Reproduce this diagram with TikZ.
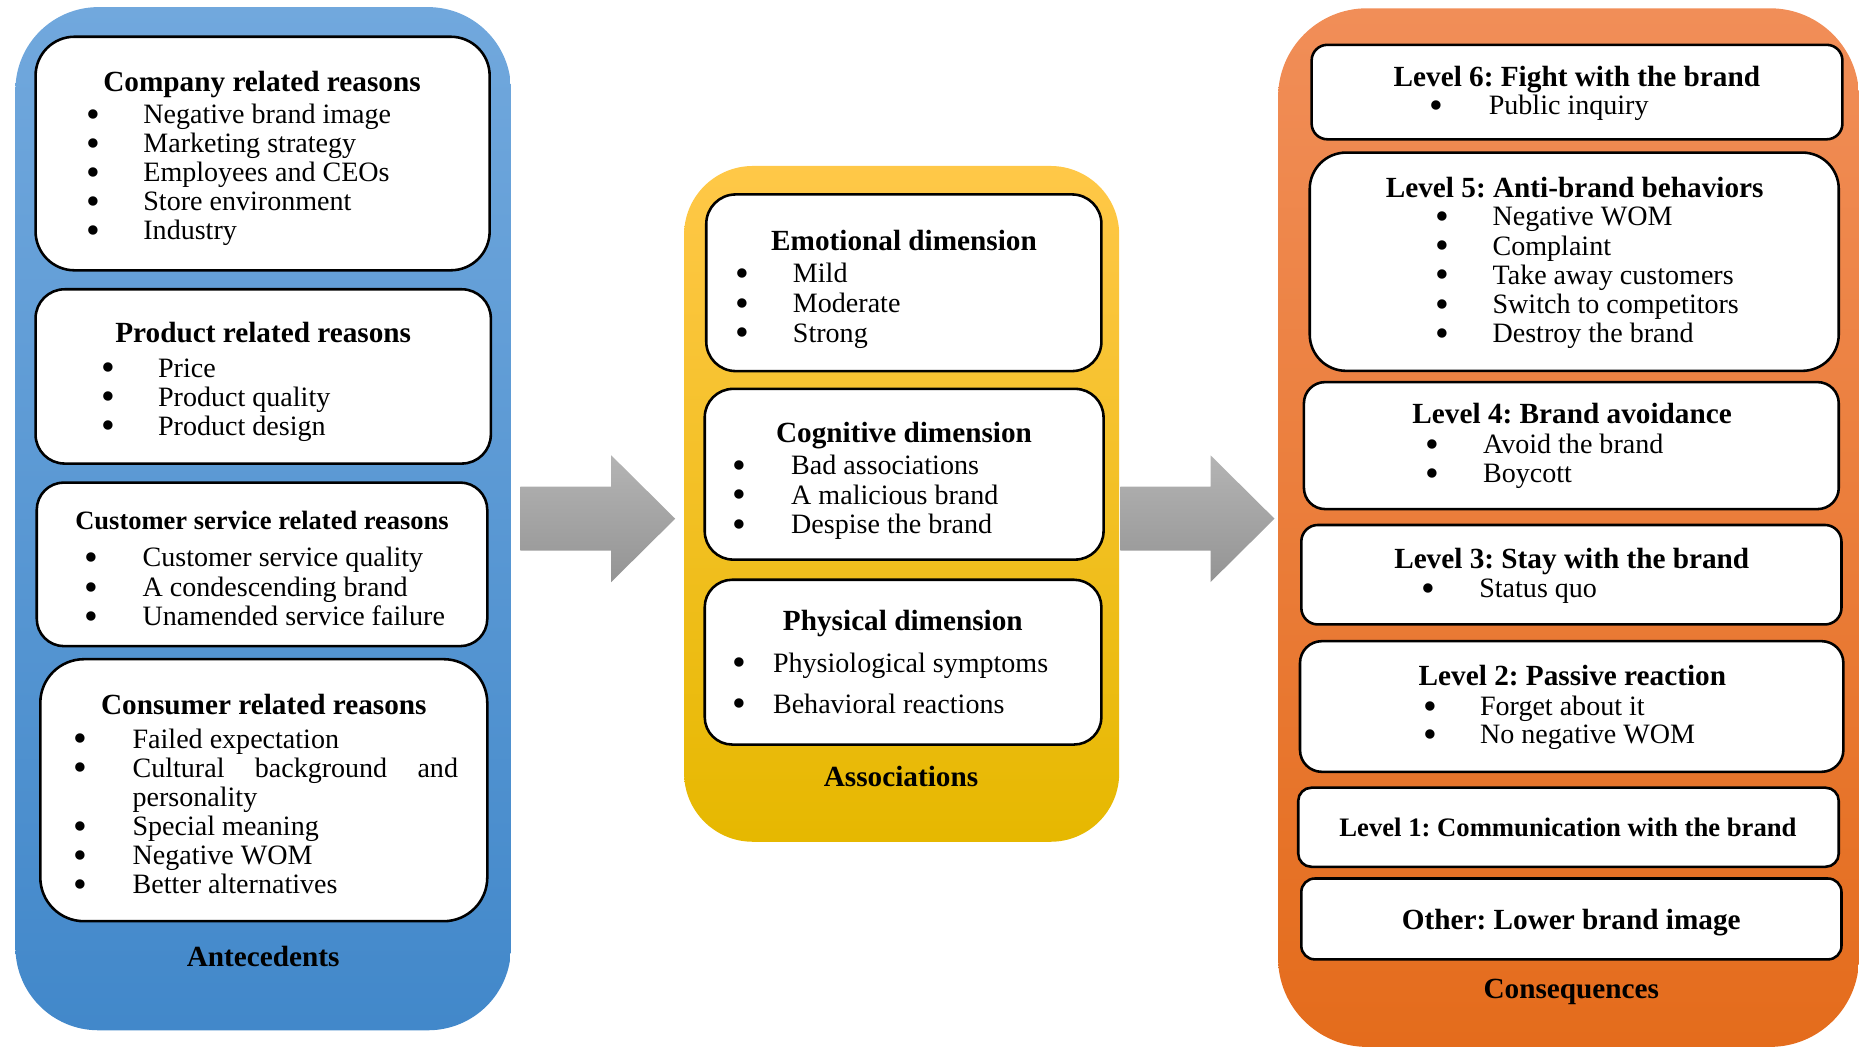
\documentclass[tikz,border=0pt]{standalone}
\usepackage{fontspec}
\setmainfont{Liberation Serif}
\frenchspacing
\usetikzlibrary{calc}
\definecolor{blueT}{RGB}{113,168,221}
\definecolor{blueB}{RGB}{66,136,202}
\definecolor{yelT}{RGB}{255,200,72}
\definecolor{yelM}{RGB}{255,192,0}
\definecolor{yelB}{RGB}{230,184,0}
\definecolor{orT}{RGB}{241,142,88}
\definecolor{orM}{RGB}{241,125,45}
\definecolor{orB}{RGB}{228,108,28}
\definecolor{arrT}{RGB}{180,180,180}
\definecolor{arrB}{RGB}{148,148,148}
% white box: name, x1, y1, x2, y2
\newcommand\ibox[5]{\node[ibox,minimum width=(#4-#2)*0.6pt,minimum height=(#5-#3)*0.6pt,rounded corners=(#5-#3)*0.1pt] (#1) at ({(#2+#4)/2},{(#3+#5)/2}) {};}
% grey block arrow: from, tip
\newcommand\barrow[2]{\shade[top color=arrT,bottom color=arrB] ($(#1)+(0,-27)$) -- ($(#2)+(-54,-27)$) -- ($(#2)+(-54,-53.5)$) -- (#2) -- ($(#2)+(-54,53.5)$) -- ($(#2)+(-54,27)$) -- ($(#1)+(0,27)$) -- cycle;}
\newcommand\bigbul{\raisebox{-1.9pt}{\scalebox{1.4}{\textbullet}}}
\begin{document}
\begin{tikzpicture}[x=0.6pt,y=-0.6pt,
  panel/.style={inner sep=0pt,outer sep=0pt},
  ibox/.style={draw=black,line width=1.3pt,fill=white,inner sep=0pt,outer sep=0pt},
  ttl/.style={font=\bfseries\fontsize{14.8}{16}\selectfont,anchor=base,inner sep=0pt},
  itm/.style={font=\fontsize{14.2}{16}\selectfont,anchor=base west,inner sep=0pt},
  bul/.style={font=\fontsize{14.2}{16}\selectfont,anchor=base,inner sep=0pt}]
\useasboundingbox (0,0) rectangle (1568,884);
%panels
\node[panel,top color=blueT,bottom color=blueB,minimum width=418*0.6pt,minimum height=863*0.6pt,rounded corners=70*0.6pt] (ante) at (222,437.5) {};
\node[panel,top color=yelT,middle color=yelM,bottom color=yelB,minimum width=367*0.6pt,minimum height=570*0.6pt,rounded corners=58*0.6pt] (assoc) at (760.5,425) {};
\node[panel,top color=orT,middle color=orM,bottom color=orB,minimum width=490*0.6pt,minimum height=876*0.6pt,rounded corners=75*0.6pt] (conseq) at (1323,445) {};
%arrows
\coordinate (a1s) at ($(ante.east)+(8,0)$);
\coordinate (a1e) at ($(assoc.west |- ante.east)+(-7.5,0)$);
\coordinate (a2s) at ($(assoc.east |- ante.east)+(1,0)$);
\coordinate (a2e) at ($(conseq.west |- ante.east)+(-3,0)$);
\barrow{a1s}{a1e}
\barrow{a2s}{a2e}
%antecedents
\ibox{comp}{30}{31}{413}{228}
\node[ttl] (compt) at (221,77.6) {Company related reasons};
\foreach \t [count=\i from 0] in {Negative brand image,Marketing strategy,Employees and CEOs,Store environment,Industry}
 {\node[bul] (cb\i) at (78.5,{104+24.5*\i}) {\bigbul};
  \node[itm] (ci\i) at (120.6,{104+24.5*\i}) {\t};}
\ibox{prod}{30}{244}{414}{391}
\node[ttl] (prodt) at (222,289) {Product related reasons};
\foreach \t [count=\i from 0] in {Price,Product quality,Product design}
 {\node[bul] (pb\i) at (91,{318+24.5*\i}) {\bigbul};
  \node[itm] (pi\i) at (133,{318+24.5*\i}) {\t};}
\ibox{serv}{31}{407}{411}{545}
\node[ttl,font=\bfseries\fontsize{13.4}{15}\selectfont] (servt) at (221,447) {Customer service related reasons};
\foreach \t [count=\i from 0] in {Customer service quality,A condescending brand,Unamended service failure}
 {\node[bul] (sb\i) at (77,{478+25*\i}) {\bigbul};
  \node[itm] (si\i) at (120,{478+25*\i}) {\t};}
\ibox{cons}{34}{556}{411}{777}
\node[ttl] (const) at (222.5,603) {Consumer related reasons};
\foreach \y/\t [count=\i] in {631/Failed expectation,655.5/{\makebox[164.7pt][s]{Cultural background and}},704.5/Special meaning,729/Negative WOM,753.5/Better alternatives}
 {\node[bul] (kb\i) at (68,\y) {\bigbul};
  \node[itm] (ki\i) at (111.5,\y) {\t};}
\node[itm] (kpers) at (111.5,680) {personality};
\node[ttl] (antet) at (222,815) {Antecedents};
%associations
\ibox{emo}{595.7}{164}{929}{313}
\node[ttl] (emot) at (762.5,211) {Emotional dimension};
\foreach \t [count=\i from 0] in {Mild,Moderate,Strong}
 {\node[bul] (eb\i) at (626,{238.5+25*\i}) {\bigbul};
  \node[itm] (ei\i) at (668.5,{238.5+25*\i}) {\t};}
\ibox{cog}{594.4}{328}{930.8}{472}
\node[ttl] (cogt) at (762.5,373) {Cognitive dimension};
\foreach \t [count=\i from 0] in {Bad associations,A malicious brand,Despise the brand}
 {\node[bul] (gb\i) at (624,{400.5+24.8*\i}) {\bigbul};
  \node[itm] (gi\i) at (667,{400.5+24.8*\i}) {\t};}
\ibox{phy}{594.4}{489}{929}{628}
\node[ttl] (phyt) at (761.5,532) {Physical dimension};
\foreach \t [count=\i from 0] in {Physiological symptoms,Behavioral reactions}
 {\node[bul] (yb\i) at (624,{567+34.5*\i}) {\bigbul};
  \node[itm] (yi\i) at (651.7,{567+34.5*\i}) {\t};}
\node[ttl] (assoct) at (760,663) {Associations};
%consequences
\ibox{lv6}{1106.3}{37.8}{1554}{117.5}
\node[ttl] (lv6t) at (1330,73.3) {Level 6: Fight with the brand};
\node[bul] (lv6b) at (1211.6,96.5) {\bigbul};
\node[itm] (lv6i) at (1255.4,96.5) {Public inquiry};
\ibox{lv5}{1104.7}{128.7}{1550.9}{312.8}
\node[ttl] (lv5t) at (1328.2,166.4) {Level 5: Anti-brand behaviors};
\foreach \t [count=\i from 0] in {Negative WOM,Complaint,Take away customers,Switch to competitors,Destroy the brand}
 {\node[bul] (fb\i) at (1216.8,{190.5+24.6*\i}) {\bigbul};
  \node[itm] (fi\i) at (1258.6,{190.5+24.6*\i}) {\t};}
\ibox{lv4}{1099.8}{322.3}{1550.9}{429.4}
\node[ttl] (lv4t) at (1326,357.5) {Level 4: Brand avoidance};
\foreach \t [count=\i from 0] in {Avoid the brand,Boycott}
 {\node[bul] (vb\i) at (1207.8,{382.7+24.3*\i}) {\bigbul};
  \node[itm] (vi\i) at (1250.6,{382.7+24.3*\i}) {\t};}
\ibox{lv3}{1097.6}{442.8}{1553.2}{526.7}
\node[ttl] (lv3t) at (1325.7,479.8) {Level 3: Stay with the brand};
\node[bul] (lv3b) at (1204.5,503.9) {\bigbul};
\node[itm] (lv3i) at (1247.4,503.9) {Status quo};
\ibox{lv2}{1096.5}{540.8}{1554.8}{651}
\node[ttl] (lv2t) at (1326.2,578.4) {Level 2: Passive reaction};
\foreach \t [count=\i from 0] in {Forget about it,No negative WOM}
 {\node[bul] (wb\i) at (1206.2,{603.3+24.2*\i}) {\bigbul};
  \node[itm] (wi\i) at (1248,{603.3+24.2*\i}) {\t};}
\ibox{lv1}{1095}{664.4}{1550.9}{731.1}
\node[ttl,font=\bfseries\fontsize{13.5}{15}\selectfont] (lv1t) at (1322.5,705.6) {Level 1: Communication with the brand};
\ibox{oth}{1097.6}{741}{1553.2}{809.2}
\node[ttl] (otht) at (1325.3,783.6) {Other: Lower brand image};
\node[ttl] (conseqt) at (1325.3,841.8) {Consequences};
\end{tikzpicture}
\end{document}
